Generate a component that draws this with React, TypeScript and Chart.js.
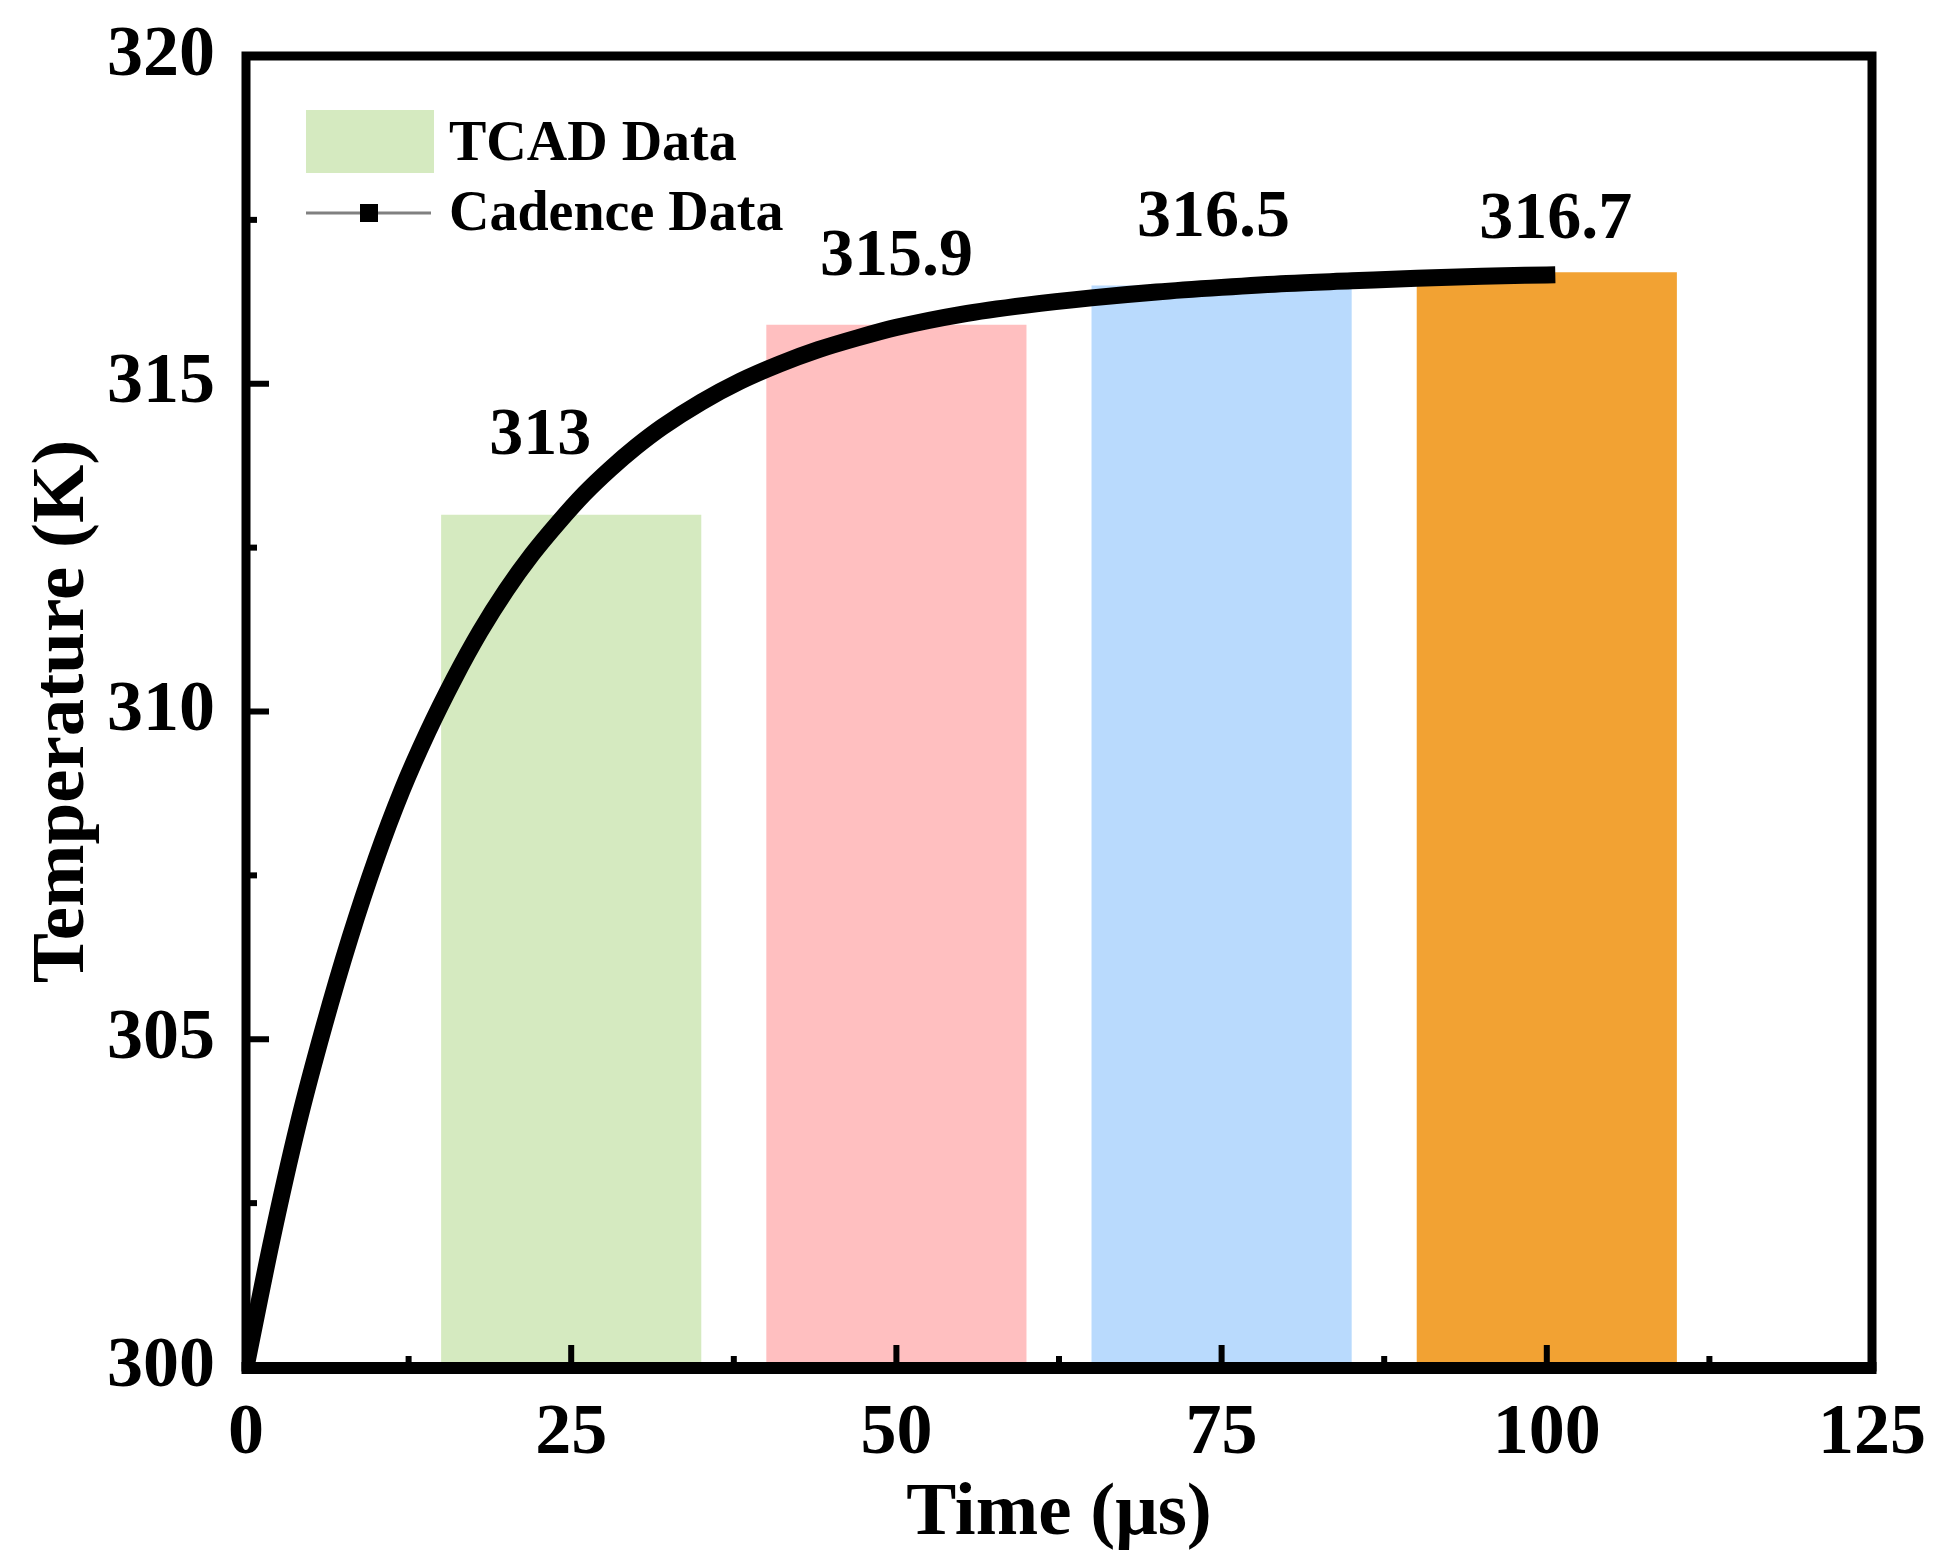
import React, { useEffect, useRef } from "react";
import { Chart, registerables } from "chart.js";

Chart.register(...registerables);

// TCAD bars
const barTimes = [25, 50, 75, 100];
const tcadTemps = [313, 315.9, 316.5, 316.7];
const barLabels = ["313", "315.9", "316.5", "316.7"];

// Cadence transient curve
const cadenceTime = [0, 2, 4, 6, 8, 10, 12, 14, 16, 18, 20, 22, 24, 26, 28, 30, 32, 35, 38, 41, 44, 47, 50, 55, 60, 65, 70, 75, 80, 85, 90, 95, 100];
const cadenceTemp = [300, 301.95, 303.7, 305.2, 306.55, 307.75, 308.8, 309.7, 310.5, 311.22, 311.85, 312.4, 312.88, 313.32, 313.7, 314.04, 314.34, 314.72, 315.04, 315.3, 315.52, 315.7, 315.86, 316.06, 316.2, 316.31, 316.4, 316.47, 316.53, 316.57, 316.61, 316.64, 316.66];

const xTicks = [0, 25, 50, 75, 100, 125];
const yTicks = [300, 305, 310, 315, 320];

const barColors = ["#d5eac0", "#ffbfc0", "#b9dafd", "#f2a233"];
// pixel nudges for the value labels
const labelNudge = [[-31, -11], [0, 0], [-8, 0], [9, 15]];

const SERIF = "'Liberation Serif', 'Times New Roman', serif";

const decor = {
  id: "decor",
  afterDraw(chart: any) {
    const { ctx, chartArea: a, scales } = chart;
    const xs = scales.x;
    const ys = scales.y;
    ctx.save();
    ctx.fillStyle = "#000";

    // inward ticks, major + minor
    const tw = 6;
    xTicks.forEach((v, i) => {
      const px = xs.getPixelForValue(v);
      ctx.fillRect(px - tw / 2, a.bottom - 22, tw, 22);
      if (i < xTicks.length - 1) {
        const m = xs.getPixelForValue((v + xTicks[i + 1]) / 2);
        ctx.fillRect(m - tw / 2, a.bottom - 11, tw, 11);
      }
    });
    yTicks.forEach((v, i) => {
      const py = ys.getPixelForValue(v);
      ctx.fillRect(a.left, py - tw / 2, 23, tw);
      if (i < yTicks.length - 1) {
        const m = ys.getPixelForValue((v + yTicks[i + 1]) / 2);
        ctx.fillRect(a.left, m - tw / 2, 11, tw);
      }
    });

    // frame
    ctx.strokeStyle = "#000";
    ctx.lineWidth = 9;
    ctx.strokeRect(a.left, a.top, a.right - a.left, a.bottom - a.top);
    ctx.fillRect(a.left - 4.5, a.bottom - 5, a.right - a.left + 9, 12);

    // value labels
    ctx.font = `bold 68px ${SERIF}`;
    ctx.textAlign = "center";
    ctx.textBaseline = "middle";
    barTimes.forEach((t, i) => {
      const px = xs.getPixelForValue(t) + labelNudge[i][0];
      const py = ys.getPixelForValue(tcadTemps[i]) - 67 + labelNudge[i][1];
      ctx.fillText(barLabels[i], px, py);
    });

    // legend
    const ds = chart.data.datasets;
    ctx.fillStyle = barColors[0];
    ctx.fillRect(306, 110, 128, 63);
    ctx.strokeStyle = "#808080";
    ctx.lineWidth = 3;
    ctx.beginPath();
    ctx.moveTo(306, 213);
    ctx.lineTo(431, 213);
    ctx.stroke();
    ctx.fillStyle = "#000";
    ctx.fillRect(360, 204, 18, 18);
    ctx.font = `bold 56px ${SERIF}`;
    ctx.textAlign = "left";
    ctx.textBaseline = "alphabetic";
    ctx.fillText(ds[0].label, 449, 160);
    ctx.fillText(ds[1].label, 449, 230);
    ctx.restore();
  },
};

export default function App() {
  const canvasRef = useRef<HTMLCanvasElement>(null);

  useEffect(() => {
    document.body.style.margin = "0";
    if (!canvasRef.current) return;
    const chart = new Chart(canvasRef.current, {
      type: "bar",
      data: {
        datasets: [
          {
            type: "bar",
            label: "TCAD Data",
            data: barTimes.map((t, i) => ({ x: t, y: tcadTemps[i] })),
            backgroundColor: barColors,
            borderWidth: 0,
            barPercentage: 0.8,
            categoryPercentage: 1,
            order: 2,
          },
          {
            type: "line",
            label: "Cadence Data",
            data: cadenceTime.map((t, i) => ({ x: t, y: cadenceTemp[i] })),
            borderColor: "#000",
            borderWidth: 17,
            borderCapStyle: "square",
            pointRadius: 0,
            cubicInterpolationMode: "monotone",
            fill: false,
            order: 1,
          },
        ],
      } as any,
      options: {
        responsive: false,
        animation: false,
        devicePixelRatio: 1,
        layout: { padding: { top: 56, right: 76, left: 0, bottom: 0 } },
        plugins: { legend: { display: false }, tooltip: { enabled: false } },
        scales: {
          x: {
            type: "linear",
            min: 0,
            max: 125,
            offset: false,
            grid: { display: false, drawTicks: false },
            border: { display: false },
            afterBuildTicks: (s: any) => {
              s.ticks = xTicks.map((v) => ({ value: v }));
            },
            afterFit: (s: any) => {
              s.height = 193;
              s.paddingLeft = 0;
              s.paddingRight = 0;
            },
            ticks: {
              autoSkip: false,
              maxRotation: 0,
              padding: 24,
              color: "#000",
              font: { family: SERIF, weight: "bold", size: 72 },
            },
            title: {
              display: true,
              text: "Time (μs)",
              color: "#000",
              padding: { top: 0, bottom: 0 },
              font: { family: SERIF, weight: "bold", size: 75 },
            },
          },
          y: {
            min: 300,
            max: 320,
            grid: { display: false, drawTicks: false },
            border: { display: false },
            afterBuildTicks: (s: any) => {
              s.ticks = yTicks.map((v) => ({ value: v }));
            },
            afterFit: (s: any) => {
              s.width = 246;
              s.paddingTop = 0;
              s.paddingBottom = 0;
            },
            ticks: {
              padding: 31,
              color: "#000",
              font: { family: SERIF, weight: "bold", size: 72 },
            },
            title: {
              display: true,
              text: "Temperature (K)",
              color: "#000",
              padding: { top: 19, bottom: 0 },
              font: { family: SERIF, weight: "bold", size: 75 },
            },
          },
        },
      } as any,
      plugins: [decor],
    });
    return () => chart.destroy();
  }, []);

  return (
    <div style={{ width: 1948, height: 1560, background: "#fff" }}>
      <canvas ref={canvasRef} width={1948} height={1560} style={{ display: "block" }} />
    </div>
  );
}
